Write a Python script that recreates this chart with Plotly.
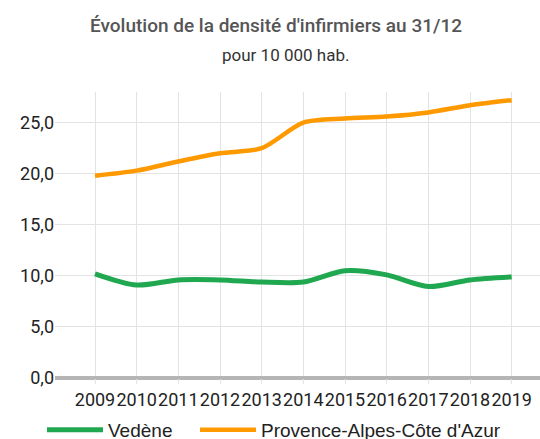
import plotly.graph_objects as go

years = [2009, 2010, 2011, 2012, 2013, 2014, 2015, 2016, 2017, 2018, 2019]
vedene = [10.2, 9.1, 9.6, 9.6, 9.4, 9.4, 10.5, 10.1, 8.95, 9.6, 9.9]
paca = [19.8, 20.3, 21.2, 22.0, 22.5, 25.0, 25.4, 25.6, 26.0, 26.7, 27.2]
series_names = ["Vedène", "Provence-Alpes-Côte d'Azur"]
colors = ["#1FA84F", "#FF9900"]
y_ticks = [0, 5, 10, 15, 20, 25]

fig = go.Figure()
for i, (name, vals, col) in enumerate(zip(series_names, [vedene, paca], colors)):
    fig.add_trace(go.Scatter(
        x=years, y=vals, name=name, mode="lines",
        line=dict(color=col, width=5 if i == 0 else 4.5, shape="spline", smoothing=0.8),
        legend="legend" if i == 0 else "legend2",
    ))

legend_common = dict(
    orientation="h",
    xref="container", xanchor="left",
    y=1 - 411 / 439, yref="container", yanchor="top",
    font=dict(family="Liberation Sans, Arial", size=19, color="#222222"),
    itemwidth=56,
    bgcolor="rgba(0,0,0,0)",
)

fig.update_layout(
    width=540, height=439,
    margin=dict(l=55, r=0, t=92, b=61, autoexpand=False),
    paper_bgcolor="white", plot_bgcolor="white",
    font=dict(family="Roboto", size=18, color="#222222"),
    separators=", ",
    title=dict(
        text="Évolution de la densité d'infirmiers au 31/12",
        font=dict(family="Roboto", size=19, color="#555555", weight=500),
        x=276 / 540, xref="container", xanchor="center",
        y=1 - 25 / 439, yref="container", yanchor="middle",
    ),
    annotations=[dict(
        text="pour 10 000 hab.", showarrow=False,
        font=dict(family="Roboto", size=17, color="#333333"),
        xref="paper", yref="paper",
        x=(285 - 55) / 485, y=(378 - 55) / 286,
        xanchor="center", yanchor="middle",
    )],
    xaxis=dict(
        range=[2008.04, 2019.68],
        tickmode="array", tickvals=years, ticktext=[str(y) for y in years],
        tickangle=0,
        showgrid=True, gridcolor="#e3e3e3", gridwidth=1,
        ticks="outside", ticklen=5, tickcolor="#e3e3e3",
        showline=False, zeroline=False,
        tickfont=dict(size=18, color="#222222"),
        fixedrange=True,
    ),
    yaxis=dict(
        range=[0, 28],
        tickmode="array", tickvals=y_ticks,
        tickformat=".1f",
        showgrid=True, gridcolor="#e3e3e3", gridwidth=1,
        zeroline=True, zerolinecolor="#b5b5b5", zerolinewidth=4,
        showline=False, ticks="",
        tickfont=dict(size=18, color="#222222"),
        fixedrange=True,
    ),
    legend=dict(x=42 / 540, **legend_common),
    legend2=dict(x=195 / 540, **legend_common),
    showlegend=True,
)

fig.write_html("out.html", config={"displayModeBar": False},
               post_script="document.body.style.margin='0';")
